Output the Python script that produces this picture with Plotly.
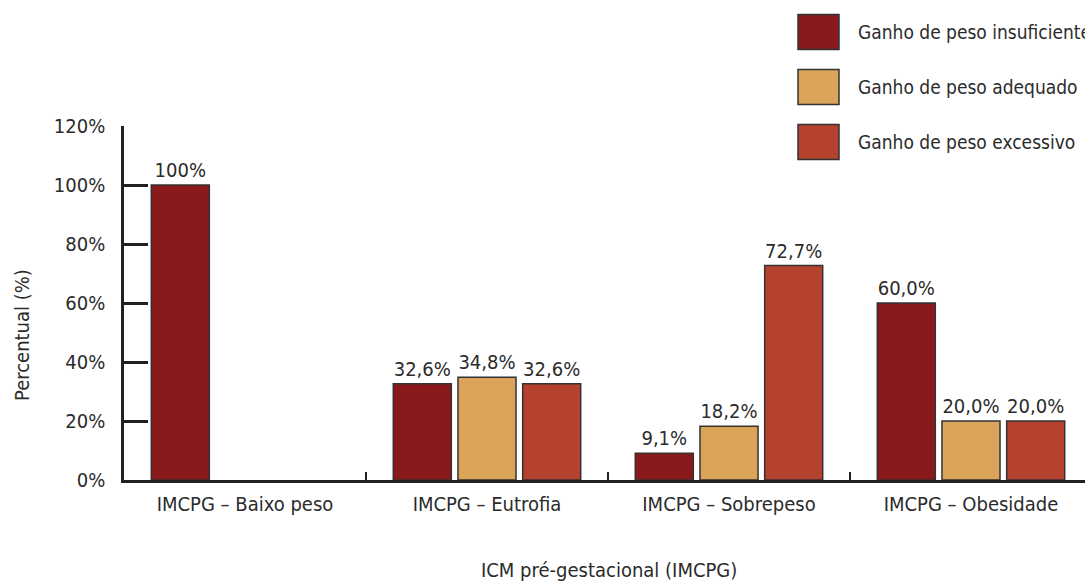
import plotly.graph_objects as go

categories = ["IMCPG – Baixo peso", "IMCPG – Eutrofia", "IMCPG – Sobrepeso", "IMCPG – Obesidade"]
series_names = ["Ganho de peso insuficiente", "Ganho de peso adequado", "Ganho de peso excessivo"]
insuficiente = [100.0, 32.6, 9.1, 60.0]
adequado = [None, 34.8, 18.2, 20.0]
excessivo = [None, 32.6, 72.7, 20.0]
labels_insuficiente = ["100%", "32,6%", "9,1%", "60,0%"]
labels_adequado = ["", "34,8%", "18,2%", "20,0%"]
labels_excessivo = ["", "32,6%", "72,7%", "20,0%"]
y_ticks = [0, 20, 40, 60, 80, 100, 120]
y_tick_labels = ["0%", "20%", "40%", "60%", "80%", "100%", "120%"]

colors = ["#8a191c", "#dba45a", "#b5422f"]
FONT = "DejaVu Sans Condensed, Liberation Sans Narrow, Arial Narrow, sans-serif"
TXT = "#2b2b2b"
FS = 20
FS_LEG = 19

W, H = 1085, 581
L, T, B = 124, 126, 101
PW = W - L
PH = H - T - B


def px_x(x):
    return (x - L) / PW


def px_y(y):
    return (H - B - y) / PH


fig = go.Figure()
for name, vals, labs, col in zip(series_names,
                                 [insuficiente, adequado, excessivo],
                                 [labels_insuficiente, labels_adequado, labels_excessivo],
                                 colors):
    fig.add_trace(go.Bar(
        x=categories, y=vals, name=name, text=labs,
        textposition="outside", textfont=dict(family=FONT, size=FS, color=TXT),
        marker=dict(color=col, line=dict(color="#333333", width=1.5)),
        cliponaxis=False, showlegend=False, hoverinfo="skip",
    ))

# manual legend (swatches + labels)
leg_rows = [32, 87, 142]  # pixel centers
for name, col, yc in zip(series_names, colors, leg_rows):
    fig.add_shape(type="rect", xref="paper", yref="paper",
                  x0=px_x(798), x1=px_x(839),
                  y0=px_y(yc + 17.5), y1=px_y(yc - 17.5),
                  fillcolor=col, line=dict(color="#333333", width=1.5))
    fig.add_annotation(xref="paper", yref="paper",
                       x=px_x(856), y=px_y(yc),
                       xanchor="left", yanchor="middle", showarrow=False,
                       text=name, font=dict(family=FONT, size=FS_LEG, color=TXT))

# axis titles
fig.add_annotation(xref="paper", yref="paper", x=px_x(609), y=px_y(570),
                   xanchor="center", yanchor="middle", showarrow=False,
                   text="ICM pré-gestacional (IMCPG)",
                   font=dict(family=FONT, size=FS, color=TXT))
fig.add_annotation(xref="paper", yref="paper", x=px_x(22), y=px_y(335),
                   xanchor="center", yanchor="middle", showarrow=False, textangle=-90,
                   text="Percentual (%)",
                   font=dict(family=FONT, size=FS, color=TXT))

fig.update_layout(
    width=W, height=H,
    margin=dict(l=L, r=0, t=T, b=B),
    paper_bgcolor="white", plot_bgcolor="white",
    barmode="group", bargap=0.198, bargroupgap=0.103,
    font=dict(family=FONT, size=FS, color=TXT),
)
fig.update_xaxes(
    range=[-0.5, 3.5 - 7 / 242], showgrid=False, zeroline=False,
    showline=True, linecolor="#231f20", linewidth=2.5,
    ticks="inside", tickson="boundaries", ticklen=8, tickwidth=2, tickcolor="#231f20",
    ticklabelstandoff=4,
    tickfont=dict(family=FONT, size=FS, color=TXT),
)
fig.update_yaxes(
    range=[0, 120], tickvals=y_ticks, ticktext=y_tick_labels, showgrid=False, zeroline=False,
    showline=True, linecolor="#231f20", linewidth=2.5,
    ticks="inside", ticklen=24, tickwidth=2.5, tickcolor="#231f20",
    ticklabelstandoff=12,
    tickfont=dict(family=FONT, size=FS, color=TXT),
)

fig.write_html("out.html")
